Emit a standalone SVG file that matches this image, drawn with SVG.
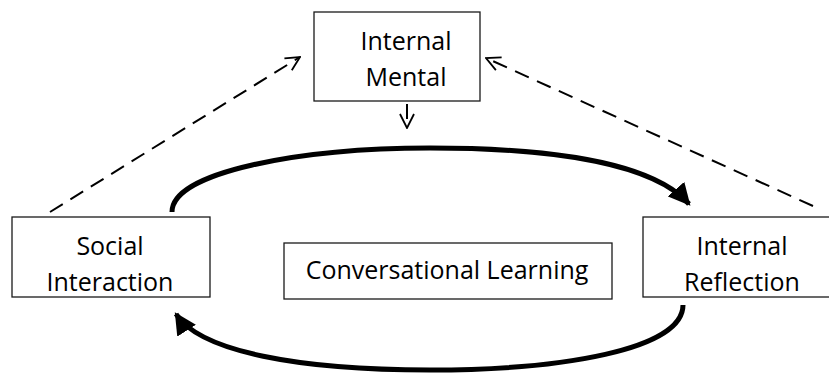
<svg xmlns="http://www.w3.org/2000/svg" width="829" height="385" viewBox="0 0 829 385">
  <style>
    .box { fill: #ffffff; stroke: #1a1a1a; stroke-width: 1.3; }
    .label { font-family: "Open Sans", "Noto Sans", sans-serif; font-size: 25px; fill: #000000; text-anchor: middle; }
    .dash { fill: none; stroke: #000000; stroke-width: 2; stroke-dasharray: 15 9; }
    .thick { fill: none; stroke: #000000; stroke-width: 5; }
  </style>
  <defs>
    <marker id="open" viewBox="0 0 16 16" refX="15" refY="8" markerWidth="16" markerHeight="16" markerUnits="userSpaceOnUse" orient="auto">
      <path d="M1,1 L15,8 L1,15" fill="none" stroke="#000000" stroke-width="1.8"/>
    </marker>
    <marker id="solid" viewBox="0 0 10 10" refX="9" refY="5" markerWidth="4.4" markerHeight="4.4" orient="auto">
      <path d="M0,0 L10,5 L0,10 Z" fill="#000000"/>
    </marker>
  </defs>

  <rect width="829" height="385" fill="#ffffff"/>

  <g id="connectors">
    <!-- dashed feeds into Internal Mental -->
    <line class="dash" x1="50" y1="212" x2="300" y2="57" marker-end="url(#open)"/>
    <line class="dash" x1="813" y1="206" x2="486" y2="58" marker-end="url(#open)"/>
    <line class="dash" x1="407" y1="104" x2="407" y2="128" stroke-dasharray="12 6" marker-end="url(#open)"/>
    <!-- conversational loop -->
    <path class="thick" d="M172,212 C172,172 300,148 430,148 C560,148 655,165 689,204" marker-end="url(#solid)"/>
    <path class="thick" d="M683,305 C683,350 560,370 430,370 C300,370 200,352 176,314" marker-end="url(#solid)"/>
  </g>

  <g id="internal-mental">
    <rect class="box" x="314" y="12" width="166" height="89"/>
    <text class="label" x="406" y="50">Internal</text>
    <text class="label" x="406" y="86">Mental</text>
  </g>

  <g id="social-interaction">
    <rect class="box" x="12" y="217" width="198" height="80"/>
    <text class="label" x="110" y="255">Social</text>
    <text class="label" x="110" y="291">Interaction</text>
  </g>

  <g id="internal-reflection">
    <rect class="box" x="643" y="217" width="200" height="80"/>
    <text class="label" x="742" y="255">Internal</text>
    <text class="label" x="742" y="291">Reflection</text>
  </g>

  <g id="conversational-learning">
    <rect class="box" x="284" y="243" width="328" height="56"/>
    <text class="label" x="447" y="279">Conversational Learning</text>
  </g>
</svg>
